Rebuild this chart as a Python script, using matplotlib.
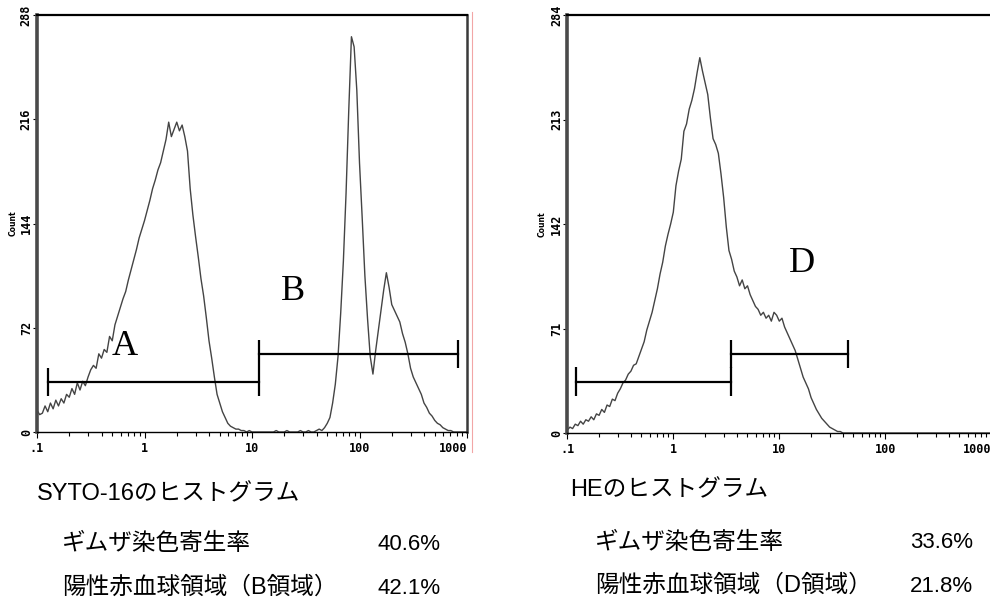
import numpy as np
import matplotlib
matplotlib.use("Agg")
import matplotlib.pyplot as plt
from matplotlib.lines import Line2D
from matplotlib.ticker import FixedLocator, LogLocator, NullFormatter

# log-amplified channel positions, 40 bins per decade from .1 to 1000
channels = np.logspace(-1, 3, 161)

# SYTO-16 histogram counts
syto_counts = [
    15, 12, 13, 18, 14, 20, 16, 22, 18, 23,        # .1 ..
    20, 26, 24, 30, 26, 34, 29, 35, 32, 38,
    43, 46, 44, 54, 51, 57, 55, 66, 63, 74,
    80, 86, 92, 97, 105, 112, 119, 126, 134, 140,
    146, 153, 160, 168, 174, 181, 186, 194, 202, 214,   # 1 ..
    204, 209, 214, 208, 212, 204, 194, 168, 150, 135,
    121, 106, 94, 79, 63, 51, 38, 26, 20, 14,
    10, 6, 4, 3, 2, 2, 1, 1, 0, 1,
    0, 0, 0, 0, 0, 0, 0, 0, 0, 1,                   # 10 ..
    0, 0, 0, 1, 0, 0, 0, 0, 1, 0,
    0, 1, 0, 0, 1, 2, 1, 3, 6, 10,
    20, 33, 52, 82, 118, 165, 222, 273, 266, 236,
    186, 148, 108, 78, 52, 40, 56, 70, 84, 98,       # 100 ..
    110, 100, 88, 84, 80, 76, 68, 62, 54, 44,
    38, 34, 30, 26, 20, 17, 13, 11, 8, 6,
    5, 3, 2, 1, 1, 0, 0, 0, 0, 0,
    0,                                               # 1000
]

# HE histogram counts
he_counts = [
    2, 4, 3, 6, 5, 8, 6, 9, 8, 11,                   # .1 ..
    9, 13, 12, 16, 14, 19, 18, 23, 22, 27,
    30, 34, 36, 40, 42, 46, 47, 52, 57, 62,
    70, 76, 82, 90, 98, 108, 116, 127, 135, 142,
    150, 168, 178, 186, 205, 210, 220, 226, 234, 245,  # 1 ..
    255, 246, 238, 230, 214, 200, 196, 190, 176, 160,
    140, 124, 118, 110, 106, 100, 104, 98, 100, 94,
    90, 86, 84, 80, 82, 78, 80, 76, 82, 80,
    76, 78, 72, 68, 64, 60, 56, 50, 44, 38,          # 10 ..
    34, 30, 24, 20, 16, 13, 10, 8, 6, 4,
    3, 2, 1, 1, 0, 0, 0, 0, 0, 0,
    0, 0, 0, 0, 0, 0, 0, 0, 0, 0,
    0, 0, 0, 0, 0, 0, 0, 0, 0, 0,                    # 100 ..
    0, 0, 0, 0, 0, 0, 0, 0, 0, 0,
    0, 0, 0, 0, 0, 0, 0, 0, 0, 0,
    0, 0, 0, 0, 0, 0, 0, 0, 0, 0,
    0,                                               # 1000
]

x_ticks = [0.1, 1, 10, 100, 1000]
x_labels = ['.1', '1', '10', '100', '1000']
syto_yticks = [0, 72, 144, 216, 288]
he_yticks = [0, 71, 142, 213, 284]

# gates: (low, high, level)
syto_gates = [(0.127, 11.7, 34.5), (11.7, 824, 53.9)]
he_gates = [(0.122, 3.5, 34.9), (3.5, 44.2, 53.7)]
gate_half = 9.7

syto_region_labels = [('A', 0.66, 59), ('B', 23.9, 97)]
he_region_labels = [('D', 16.4, 115)]

syto_rows = [('ギムザ染色寄生率', '40.6%'), ('陽性赤血球領域（B領域）', '42.1%')]
he_rows = [('ギムザ染色寄生率', '33.6%'), ('陽性赤血球領域（D領域）', '21.8%')]

TEXT_FONT = ['Liberation Sans', 'Noto Sans CJK JP', 'DejaVu Sans']


def style_axes(ax, yticks, right_spine=True):
    ax.set_xscale('log')
    ax.set_xlim(0.1, 1000)
    ax.set_ylim(0, yticks[-1])
    ax.xaxis.set_major_locator(FixedLocator(x_ticks))
    ax.xaxis.set_minor_locator(LogLocator(base=10, subs=np.arange(2, 10)))
    ax.xaxis.set_minor_formatter(NullFormatter())
    ax.set_xticklabels(x_labels, family='DejaVu Sans Mono', weight='bold', fontsize=8.5)
    ax.get_xticklabels()[-1].set_ha('right')
    ax.set_yticks(yticks)
    ax.set_yticklabels([str(v) for v in yticks], family='DejaVu Sans Mono',
                       weight='bold', fontsize=8.5, rotation=90, va='center')
    ax.tick_params(axis='x', which='major', direction='out', length=4, width=0.8, pad=3)
    ax.tick_params(axis='x', which='minor', direction='out', length=3, width=0.8)
    ax.tick_params(axis='y', direction='out', length=3, width=0.8, pad=0)
    ax.spines['left'].set_color('#4a4a4a')
    ax.spines['left'].set_linewidth(2.6)
    ax.spines['top'].set_color('black')
    ax.spines['top'].set_linewidth(1.6)
    ax.spines['bottom'].set_linewidth(1.0)
    if right_spine:
        ax.spines['right'].set_color('#3a3a3a')
        ax.spines['right'].set_linewidth(1.8)
    else:
        ax.spines['right'].set_visible(False)
    ax.set_ylabel('Count', family='DejaVu Sans', weight='bold', fontsize=5.5)


def draw_gates(ax, gates):
    for lo, hi, level in gates:
        ax.plot([lo, hi], [level, level], color='black', lw=1.6)
        ax.vlines([lo, hi], level - gate_half, level + gate_half, color='black', lw=1.6)


fig = plt.figure(figsize=(9.9, 6.03), dpi=100)
W, H = 990, 603

ax1 = fig.add_axes([37 / W, 171 / H, 430 / W, 417 / H])
ax1.plot(channels, syto_counts, color='#444444', lw=1.0)
draw_gates(ax1, syto_gates)
for s, x, y in syto_region_labels:
    ax1.text(x, y, s, family='Liberation Serif', fontsize=26, ha='center', va='center')
style_axes(ax1, syto_yticks)
ax1.yaxis.set_label_coords(-0.045, 0.5)

ax2 = fig.add_axes([567.3 / W, 170 / H, 424 / W, 418 / H])
ax2.plot(channels, he_counts, color='#444444', lw=1.0)
draw_gates(ax2, he_gates)
for s, x, y in he_region_labels:
    ax2.text(x, y, s, family='Liberation Serif', fontsize=26, ha='center', va='center')
style_axes(ax2, he_yticks, right_spine=False)
ax2.yaxis.set_label_coords(-0.048, 0.5)

# thin pink frame line right of the first plot
fig.add_artist(Line2D([472 / W, 472 / W], [1 - 12 / H, 1 - 452 / H], color='#f2a6a6', lw=0.8))

# captions under the plots
fig.text(37 / W, 1 - 494 / H, 'SYTO-16のヒストグラム', family=TEXT_FONT, fontsize=17, va='center')
for (label, pct), yp in zip(syto_rows, [544, 588]):
    fig.text(62 / W, 1 - yp / H, label, family=TEXT_FONT, fontsize=17, va='center')
    fig.text(377 / W, 1 - yp / H, pct, family=TEXT_FONT, fontsize=16, va='center')

fig.text(570 / W, 1 - 490 / H, 'HEのヒストグラム', family=TEXT_FONT, fontsize=17, va='center')
for (label, pct), yp in zip(he_rows, [543, 586]):
    fig.text(595 / W, 1 - yp / H, label, family=TEXT_FONT, fontsize=17, va='center')
    fig.text(910 / W, 1 - yp / H, pct, family=TEXT_FONT, fontsize=16, va='center')

fig.savefig('out.png', dpi=100)
